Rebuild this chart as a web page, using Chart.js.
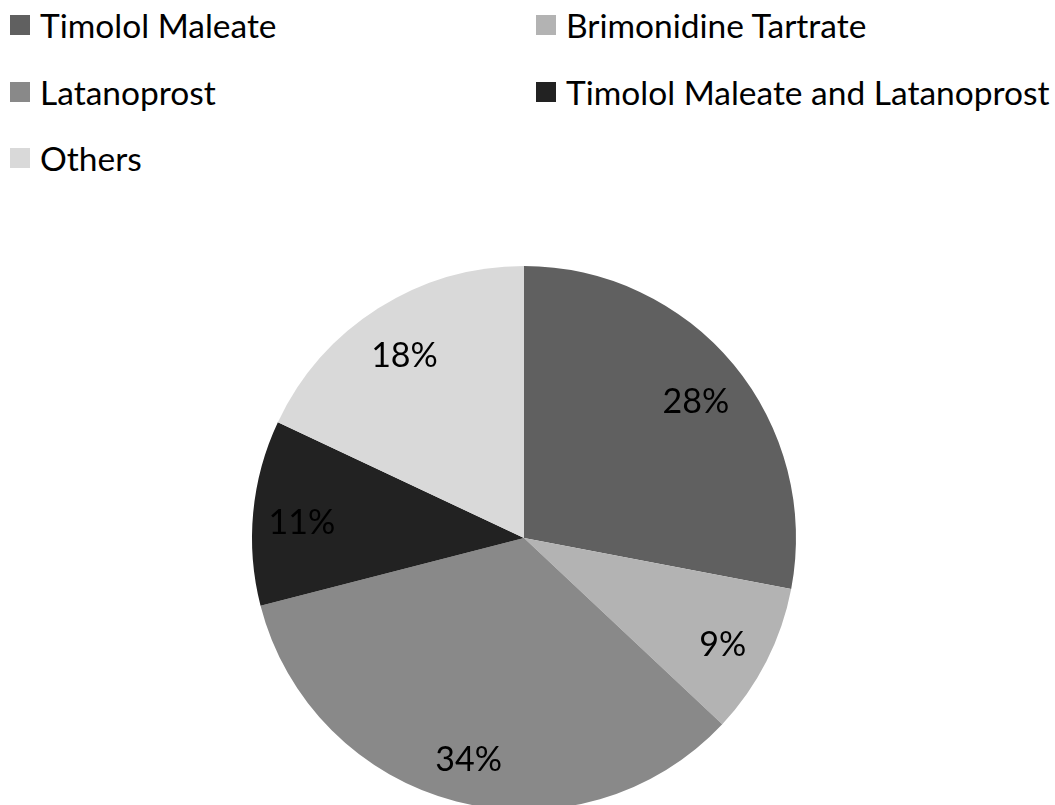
<!DOCTYPE html>
<html>
<head>
<meta charset="utf-8">
<script src="https://cdn.jsdelivr.net/npm/chart.js@4/dist/chart.umd.min.js"></script>
<style>
    html, body { margin: 0; padding: 0; background: #fff; width: 1055px; height: 805px; overflow: hidden; }
    body { position: relative; font-family: Lato, "Open Sans", sans-serif; }
    #legend { position: absolute; left: 0; top: 0; width: 1055px; }
    .item { position: absolute; display: flex; align-items: center; font-size: 33.5px; color: #000; white-space: nowrap; }
    .item .box { width: 20px; height: 20px; margin-right: 10px; flex: none; }
    #chartWrap { position: absolute; left: 0; top: 266px; width: 1055px; height: 544px; }
</style>
</head>
<body>
<div id="legend"></div>
<div id="chartWrap"><canvas id="pieChart"></canvas></div>
<script>
const drugLabels = ['Timolol Maleate', 'Brimonidine Tartrate', 'Latanoprost', 'Timolol Maleate and Latanoprost', 'Others'];
const shareValues = [28, 9, 34, 11, 18];
const sliceColors = ['#606060', '#b3b3b3', '#898989', '#222222', '#d9d9d9'];

// legend in two columns, like the original sheet
function buildLegend() {
    const legend = document.getElementById('legend');
    const colX = [10, 536];
    drugLabels.forEach((label, i) => {
        const col = i % 2;
        const row = Math.floor(i / 2);
        const div = document.createElement('div');
        div.className = 'item';
        div.style.left = colX[col] + 'px';
        div.style.top = (25 + row * 66.5 - 20) + 'px';
        div.style.height = '40px';
        div.innerHTML = `<span class="box" style="background:${sliceColors[i]}"></span>${label}`;
        legend.appendChild(div);
    });
}

const percentLabels = {
    id: 'percentLabels',
    afterDatasetsDraw(chart) {
        const ctx = chart.ctx;
        const meta = chart.getDatasetMeta(0);
        ctx.save();
        ctx.font = '34px Lato, "Open Sans", sans-serif';
        ctx.fillStyle = '#000';
        ctx.textAlign = 'center';
        ctx.textBaseline = 'middle';
        meta.data.forEach((arc, i) => {
            const p = arc.getProps(['x', 'y', 'startAngle', 'endAngle', 'outerRadius'], true);
            const mid = (p.startAngle + p.endAngle) / 2;
            const r = p.outerRadius * 0.82;
            ctx.fillText(shareValues[i] + '%', p.x + Math.cos(mid) * r, p.y + Math.sin(mid) * r + 6);
        });
        ctx.restore();
    }
};

function createPieChart() {
    const ctx = document.getElementById('pieChart').getContext('2d');
    new Chart(ctx, {
        type: 'pie',
        data: {
            labels: drugLabels,
            datasets: [{
                data: shareValues,
                backgroundColor: sliceColors,
                borderWidth: 0
            }]
        },
        options: {
            responsive: true,
            maintainAspectRatio: false,
            animation: false,
            layout: { padding: { left: 0, right: 7, top: 0, bottom: 0 } },
            plugins: {
                legend: { display: false },
                tooltip: { enabled: false }
            }
        },
        plugins: [percentLabels]
    });
}

buildLegend();
createPieChart();
</script>
</body>
</html>
